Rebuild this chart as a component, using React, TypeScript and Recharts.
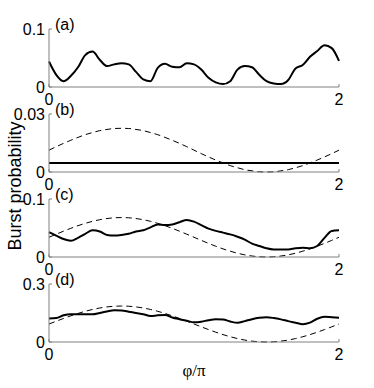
import { Line, LineChart, XAxis, YAxis } from "recharts";

// phi / pi sample points (step 0.05)
const phi = [
    0, 0.05, 0.1, 0.15, 0.2, 0.25, 0.3, 0.35, 0.4, 0.45, 0.5, 0.55, 0.6, 0.65, 0.7, 0.75, 0.8, 0.85, 0.9, 0.95,
    1, 1.05, 1.1, 1.15, 1.2, 1.25, 1.3, 1.35, 1.4, 1.45, 1.5, 1.55, 1.6, 1.65, 1.7, 1.75, 1.8, 1.85, 1.9, 1.95, 2,
];

// (a) burst probability
const burstA = [
    0.044, 0.021, 0.01, 0.019, 0.034, 0.055, 0.061, 0.047, 0.036, 0.039, 0.041, 0.039, 0.026, 0.013, 0.01, 0.033,
    0.04, 0.035, 0.034, 0.041, 0.039, 0.03, 0.016, 0.008, 0.005, 0.01, 0.03, 0.036, 0.034, 0.021, 0.01, 0.006,
    0.005, 0.012, 0.032, 0.038, 0.052, 0.062, 0.072, 0.067, 0.045,
];

// (b)
const burstB = [
    0.0047, 0.0047, 0.0047, 0.0047, 0.0047, 0.0047, 0.0047, 0.0047, 0.0047, 0.0047, 0.0047, 0.0047, 0.0047,
    0.0047, 0.0047, 0.0047, 0.0047, 0.0047, 0.0047, 0.0047, 0.0047, 0.0047, 0.0047, 0.0047, 0.0047, 0.0047,
    0.0047, 0.0047, 0.0047, 0.0047, 0.0047, 0.0047, 0.0047, 0.0047, 0.0047, 0.0047, 0.0047, 0.0047, 0.0047,
    0.0047, 0.0047,
];
const driveB = [
    0.0113, 0.0131, 0.0148, 0.0164, 0.0179, 0.0193, 0.0204, 0.0214, 0.022, 0.0225, 0.0226, 0.0225, 0.022, 0.0214,
    0.0204, 0.0193, 0.0179, 0.0164, 0.0148, 0.0131, 0.0113, 0.0095, 0.0078, 0.0062, 0.0047, 0.0033, 0.0022,
    0.0012, 0.0006, 0.0001, 0, 0.0001, 0.0006, 0.0012, 0.0022, 0.0033, 0.0047, 0.0062, 0.0078, 0.0095, 0.0113,
];

// (c)
const burstC = [
    0.043, 0.037, 0.031, 0.028, 0.033, 0.04, 0.046, 0.044, 0.038, 0.037, 0.038, 0.04, 0.044, 0.046, 0.051, 0.056,
    0.055, 0.056, 0.06, 0.064, 0.061, 0.055, 0.049, 0.045, 0.042, 0.039, 0.035, 0.03, 0.023, 0.019, 0.015, 0.013,
    0.013, 0.013, 0.015, 0.016, 0.015, 0.019, 0.033, 0.045, 0.046,
];
const driveC = [
    0.034, 0.0393, 0.0445, 0.0494, 0.054, 0.058, 0.0615, 0.0643, 0.0663, 0.0676, 0.068, 0.0676, 0.0663, 0.0643,
    0.0615, 0.058, 0.054, 0.0494, 0.0445, 0.0393, 0.034, 0.0287, 0.0235, 0.0186, 0.014, 0.01, 0.0065, 0.0037,
    0.0017, 0.0004, 0, 0.0004, 0.0017, 0.0037, 0.0065, 0.01, 0.014, 0.0186, 0.0235, 0.0287, 0.034,
];

// (d)
const burstD = [
    0.122, 0.124, 0.138, 0.144, 0.144, 0.143, 0.143, 0.15, 0.158, 0.164, 0.163, 0.157, 0.15, 0.144, 0.134, 0.138,
    0.14, 0.127, 0.118, 0.11, 0.102, 0.105, 0.113, 0.118, 0.117, 0.106, 0.099, 0.108, 0.118, 0.125, 0.128, 0.124,
    0.117, 0.108, 0.1, 0.092, 0.1, 0.12, 0.13, 0.128, 0.126,
];
const driveD = [
    0.093, 0.1075, 0.1217, 0.1352, 0.1477, 0.1588, 0.1682, 0.1759, 0.1815, 0.1849, 0.186, 0.1849, 0.1815, 0.1759,
    0.1682, 0.1588, 0.1477, 0.1352, 0.1217, 0.1075, 0.093, 0.0785, 0.0643, 0.0508, 0.0383, 0.0272, 0.0178,
    0.0101, 0.0045, 0.0011, 0, 0.0011, 0.0045, 0.0101, 0.0178, 0.0272, 0.0383, 0.0508, 0.0643, 0.0785, 0.093,
];

const panelLabels = ["(a)", "(b)", "(c)", "(d)"];
const yMax = [0.1, 0.03, 0.1, 0.3];
const yTickText = [["0", "0.1"], ["0", "0.03"], ["0", "0.1"], ["0", "0.3"]];
const xTickText = ["0", "2"];

const FONT = "'Liberation Sans', Arial, Helvetica, sans-serif";
const AXIS = "#808080";
const PLOT_TOPS = [29, 114, 199, 284];

const panels = [
    { burst: burstA, drive: null as number[] | null },
    { burst: burstB, drive: driveB },
    { burst: burstC, drive: driveC },
    { burst: burstD, drive: driveD },
];

const Panel = ({ idx }: { idx: number }) => {
    const { burst, drive } = panels[idx];
    const data = phi.map((p, i) => ({
        phi: p,
        burst: burst[i],
        drive: drive ? drive[i] : null,
    }));
    const max = yMax[idx];

    return (
        <div style={{ position: "absolute", left: 0, top: PLOT_TOPS[idx] - 15 }}>
            <LineChart width={374} height={100} data={data} margin={{ top: 15, right: 35, left: 0, bottom: 0 }}>
                <XAxis
                    dataKey="phi"
                    type="number"
                    domain={[0, 2]}
                    ticks={[0, 2]}
                    interval={0}
                    height={27}
                    tickSize={-3}
                    tickMargin={10}
                    stroke={AXIS}
                    tickFormatter={(v: number) => (v === 0 ? xTickText[0] : xTickText[1])}
                    tick={{ fill: "#000", fontSize: 16, fontFamily: FONT }}
                />
                <YAxis
                    type="number"
                    domain={[0, max]}
                    ticks={[0, max]}
                    interval={0}
                    width={49}
                    tickSize={-3}
                    tickMargin={7}
                    stroke={AXIS}
                    tickFormatter={(v: number) => (v === 0 ? yTickText[idx][0] : yTickText[idx][1])}
                    tick={{ fill: "#000", fontSize: 16, fontFamily: FONT }}
                />
                {drive && (
                    <Line
                        type="monotone"
                        dataKey="drive"
                        stroke="#000"
                        strokeWidth={1}
                        strokeDasharray="6 4"
                        dot={false}
                        isAnimationActive={false}
                    />
                )}
                <Line
                    type="monotone"
                    dataKey="burst"
                    stroke="#000"
                    strokeWidth={2}
                    dot={false}
                    isAnimationActive={false}
                />
            </LineChart>
        </div>
    );
};

export default function App() {
    return (
        <div
            style={{
                position: "absolute",
                left: 0,
                top: 0,
                width: 374,
                height: 388,
                background: "#fff",
                fontFamily: FONT,
            }}
        >
            {panels.map((_, i) => (
                <Panel key={i} idx={i} />
            ))}
            <svg width={374} height={388} style={{ position: "absolute", left: 0, top: 0, pointerEvents: "none" }}>
                {panelLabels.map((t, i) => (
                    <text key={t} x={55} y={PLOT_TOPS[i] + 1} fontSize={16} fontFamily={FONT} fill="#000">
                        {t}
                    </text>
                ))}
                <text
                    x={0}
                    y={0}
                    transform="translate(21,186) rotate(-90)"
                    textAnchor="middle"
                    fontSize={18}
                    fontFamily={FONT}
                    fill="#000"
                >
                    Burst probability
                </text>
                <text
                    x={194}
                    y={376}
                    textAnchor="middle"
                    fontSize={17}
                    fontFamily="'Liberation Serif', 'DejaVu Serif', serif"
                    fill="#000"
                >
                    φ/π
                </text>
            </svg>
        </div>
    );
}
